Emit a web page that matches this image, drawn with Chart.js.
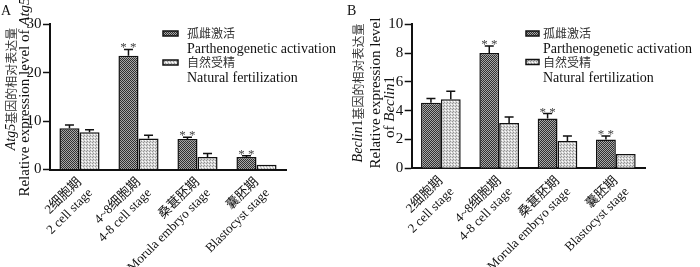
<!DOCTYPE html>
<html><head><meta charset="utf-8">
<script src="https://cdn.jsdelivr.net/npm/chart.js@4.4.1/dist/chart.umd.min.js"></script>
<style>
html,body{margin:0;padding:0;background:#fff;}
#wrap{position:relative;width:700px;height:267px;overflow:hidden;background:#fff;}
.pane{position:absolute;top:0;height:267px;}
</style></head><body>
<div id="wrap">
<div class="pane" style="left:0;width:345px"><canvas id="cA" width="345" height="267"></canvas></div>
<div class="pane" style="left:345px;width:355px"><canvas id="cB" width="355" height="267"></canvas></div>
</div>
<script>
// ---- data ----
const categories = [["2细胞期","2 cell stage"],["4~8细胞期","4-8 cell stage"],["桑葚胚期","Morula embryo stage"],["囊胚期","Blastocyst stage"]];
const seriesZh = ["孤雌激活","自然受精"];
const seriesEn = ["Parthenogenetic activation","Natural fertilization"];
const atg5PA = [8.5, 23.5, 6.3, 2.6];
const atg5PAErr = [0.7, 1.3, 0.35, 0.25];
const atg5NF = [7.7, 6.4, 2.6, 1.0];
const atg5NFErr = [0.5, 0.7, 0.7, 0.0];
const beclinPA = [4.55, 8.0, 3.45, 2.0];
const beclinPAErr = [0.3, 0.5, 0.35, 0.25];
const beclinNF = [4.8, 3.15, 1.9, 1.0];
const beclinNFErr = [0.55, 0.42, 0.35, 0.0];
const significant = [false, true, true, true];
const atg5Ticks = [0, 10, 20, 30];
const beclinTicks = [0, 2, 4, 6, 8, 10];

const SERIF = "'Liberation Serif','Noto Sans CJK SC'";
const CJK = "'Noto Sans CJK SC'";

function makePattern(ctx, kind){
  const c = document.createElement('canvas');
  const x = c.getContext('2d');
  if(kind === 'dark'){
    c.width = 2; c.height = 2;
    x.fillStyle = '#303030'; x.fillRect(0,0,2,2);
    x.fillStyle = '#a8a8a8'; x.fillRect(1,0,1,1); x.fillRect(0,1,1,1);
  } else {
    c.width = 3; c.height = 3;
    x.fillStyle = '#d6d6d6'; x.fillRect(0,0,3,3);
    x.fillStyle = '#959595'; x.fillRect(0,0,1,1); x.fillRect(2,1,1,1);
    x.fillStyle = '#ffffff'; x.fillRect(1,2,1,1);
  }
  return ctx.createPattern(c, 'repeat');
}

function drawRot(ctx, segs, cx, cy){
  ctx.save();
  ctx.translate(cx, cy);
  ctx.rotate(-Math.PI/2);
  ctx.textBaseline = 'middle';
  ctx.textAlign = 'left';
  let total = 0;
  segs.forEach(s => { ctx.font = s.f; s.w = ctx.measureText(s.t).width; total += s.w; });
  let x = -total/2;
  segs.forEach(s => { ctx.font = s.f; ctx.fillStyle = s.c || '#111'; ctx.fillText(s.t, x, 0); x += s.w; });
  ctx.restore();
}

function buildChart(id, cfg){
  const canvas = document.getElementById(id);
  const ctx = canvas.getContext('2d');
  const dark = makePattern(ctx, 'dark');
  const light = makePattern(ctx, 'light');
  const errs = [cfg.paErr, cfg.nfErr];
  const decor = {
    id: 'decor',
    afterDatasetsDraw(chart){
      const c = chart.ctx;
      const ys = chart.scales.y;
      c.save();
      [0,1].forEach(di => {
        const meta = chart.getDatasetMeta(di);
        const vals = chart.data.datasets[di].data;
        meta.data.forEach((el, j) => {
          const top = ys.getPixelForValue(vals[j] + errs[di][j]);
          c.strokeStyle = '#111'; c.lineWidth = 1.5;
          if (errs[di][j] > 0) {
            c.beginPath();
            c.moveTo(el.x, el.y); c.lineTo(el.x, top);
            c.moveTo(el.x - 4.5, top); c.lineTo(el.x + 4.5, top);
            c.stroke();
          }
          if (di === 0 && significant[j]) {
            c.fillStyle = '#444';
            c.font = "13px " + SERIF;
            c.textAlign = 'center'; c.textBaseline = 'alphabetic';
            c.fillText('* *', el.x, top + 2);
          }
        });
      });
      c.restore();
    },
    afterDraw(chart){
      const c = chart.ctx;
      c.save();
      c.fillStyle = '#111'; c.font = "14px " + SERIF; c.textBaseline = 'middle'; c.textAlign = 'left';
      c.fillText(cfg.letter, cfg.letterX, 11);
      cfg.titles.forEach(t => drawRot(c, t.segs, t.x, t.y));
      const L = cfg.legend;
      [dark, light].forEach((p, i) => {
        const yy = L.y[i];
        c.fillStyle = p; c.fillRect(L.sx, yy - 2.5, L.sw, 5);
        c.strokeStyle = '#111'; c.lineWidth = 1.5; c.strokeRect(L.sx, yy - 2.5, L.sw, 5);
        c.textBaseline = 'middle'; c.textAlign = 'left';
        c.fillStyle = '#333'; c.font = "12px " + CJK;
        c.fillText(seriesZh[i], L.tx, yy);
        c.fillStyle = '#111'; c.font = "14px " + SERIF;
        c.fillText(seriesEn[i], L.tx, yy + 16);
      });
      c.restore();
    }
  };
  const W = canvas.width;
  return new Chart(ctx, {
    type: 'bar',
    data: {
      labels: categories,
      datasets: [
        {label: seriesZh[0] + ' ' + seriesEn[0], data: cfg.pa, backgroundColor: dark, borderColor: '#111', borderWidth: 1.5, borderSkipped: 'bottom'},
        {label: seriesZh[1] + ' ' + seriesEn[1], data: cfg.nf, backgroundColor: light, borderColor: '#111', borderWidth: 1.5, borderSkipped: 'bottom'}
      ]
    },
    options: {
      responsive: false,
      animation: false,
      events: [],
      layout: {padding: {left: 0, top: cfg.top, right: W - cfg.right, bottom: 0}},
      plugins: {legend: {display: false}, tooltip: {enabled: false}},
      datasets: {bar: {barPercentage: 1.0, categoryPercentage: 0.68}},
      scales: {
        x: {
          grid: {display: true, drawOnChartArea: false, drawTicks: false, color: 'rgba(0,0,0,0)'},
          border: {display: true, color: '#111', width: 2},
          ticks: {color: '#111', font: {family: SERIF, size: 13}, maxRotation: 45, minRotation: 45, padding: 5, autoSkip: false},
          afterFit(s){ s.height = 267 - cfg.bottom; }
        },
        y: {
          min: cfg.ticks[0], max: cfg.ticks[cfg.ticks.length - 1],
          grid: {display: true, drawOnChartArea: false, drawTicks: true, tickLength: 7, tickWidth: 1.5, tickColor: '#111'},
          border: {display: true, color: '#111', width: 2},
          ticks: {stepSize: cfg.ticks[1] - cfg.ticks[0], color: '#111', font: {family: SERIF, size: 15}, padding: 1.5},
          afterFit(s){ s.width = cfg.left; }
        }
      }
    },
    plugins: [decor]
  });
}

const itA = "italic 14px 'Liberation Serif'";
const upA = "15px 'Liberation Serif'";
const zhA = "12px " + CJK;

buildChart('cA', {
  pa: atg5PA, nf: atg5NF, paErr: atg5PAErr, nfErr: atg5NFErr, ticks: atg5Ticks,
  left: 50, right: 286, top: 24.3, bottom: 169.5,
  letter: 'A', letterX: 1,
  titles: [
    {x: 11, y: 89, segs: [{t: 'Atg5', f: itA}, {t: '基因的相对表达量', f: zhA, c: '#333'}]},
    {x: 25, y: 97, segs: [{t: 'Relative expression level of ', f: upA}, {t: 'Atg5', f: "italic 15px 'Liberation Serif'"}]}
  ],
  legend: {sx: 163, sw: 15, tx: 187, y: [33.5, 62.5]}
});

buildChart('cB', {
  pa: beclinPA, nf: beclinNF, paErr: beclinPAErr, nfErr: beclinNFErr, ticks: beclinTicks,
  left: 66.7, right: 300, top: 24.3, bottom: 168.3,
  letter: 'B', letterX: 2,
  titles: [
    {x: 13, y: 93, segs: [{t: 'Beclin', f: itA}, {t: '1', f: "14px 'Liberation Serif'"}, {t: '基因的相对表达量', f: zhA, c: '#333'}]},
    {x: 31.5, y: 93, segs: [{t: 'Relative expression level', f: upA}]},
    {x: 45, y: 107, segs: [{t: 'of ', f: upA}, {t: 'Beclin', f: "italic 15px 'Liberation Serif'"}, {t: '1', f: upA}]}
  ],
  legend: {sx: 181, sw: 13, tx: 198, y: [33.5, 62]}
});
</script>
</body></html>
